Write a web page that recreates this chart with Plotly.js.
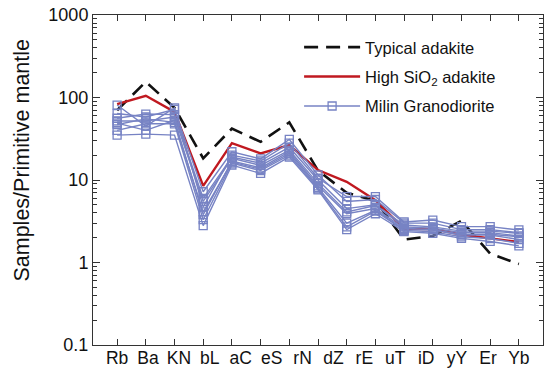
<!DOCTYPE html>
<html>
<head>
<meta charset="utf-8">
<script src="https://cdn.plot.ly/plotly-3.0.1.min.js"></script>
<style>html,body{margin:0;padding:0;background:#fff;}#chart{width:547px;height:374px;}</style>
</head>
<body>
<div id="chart"></div>
<script>
// Elements plotted (15 data positions)
const elements = ['Rb','Ba','K','Nb','La','Ce','Sr','Nd','Zr','Eu','Ti','Dy','Y','Er','Yb'];
// Axis labels as printed in the figure (14 labels)
const tickLabels = ['Rb','Ba','KN','bL','aC','eS','rN','dZ','rE','uT','iD','yY','Er','Yb'];

const typicalAdakite = [70, 155, 75, 18.3, 42, 29, 50, 13, 7, 5.6, 1.9, 2.1, 3.2, 1.28, 0.96];
const highSiO2Adakite = [83, 105, 67, 8.5, 28, 21, 26.5, 13.2, 9.5, 5.7, 2.56, 2.55, 2.18, 1.96, 1.77];

const milin1 = [81, 45, 75, 4.7, 20, 17, 28, 10.5, 6.3, 6.3, 3.1, 3.27, 2.72, 2.72, 2.48];
const milin2 = [64, 58, 72, 7.2, 22, 18, 31, 11.5, 5.5, 5.8, 3.0, 3.0, 2.5, 2.5, 2.3];
const milin3 = [56, 63, 62, 6.0, 19, 16, 25, 10, 4.5, 5.0, 2.85, 2.7, 2.4, 2.4, 2.26];
const milin4 = [52, 52, 58, 5.5, 18.3, 15, 23, 9.1, 4.1, 4.9, 2.7, 2.6, 2.3, 2.3, 2.1];
const milin5 = [49, 40, 53, 3.8, 17, 14, 22, 8.5, 3.9, 4.5, 2.6, 2.5, 2.2, 2.2, 2.05];
const milin6 = [47, 55, 50, 4.1, 16.5, 13.5, 21, 8.1, 3.0, 4.3, 2.5, 2.48, 2.15, 2.15, 1.9];
const milin7 = [40, 48, 48, 3.3, 16, 13, 20, 7.8, 2.7, 4.2, 2.45, 2.35, 2.05, 1.95, 1.71];
const milin8 = [35, 36, 35, 2.8, 15.2, 12, 19, 7.6, 2.5, 3.9, 2.37, 2.26, 1.96, 1.8, 1.59];
const milinSamples = [milin1, milin2, milin3, milin4, milin5, milin6, milin7, milin8];

const yTickVals = [0.1, 1, 10, 100, 1000];
const yTickText = ['0.1', '1', '10', '100', '1000'];

const blue = '#7783c4';
const red = '#c01920';
const FONT = 'Liberation Sans, Arial, Helvetica, sans-serif';

const traces = [];
traces.push({
  x: elements, y: typicalAdakite, type: 'scatter', mode: 'lines',
  name: 'Typical adakite', legendgroup: 'a',
  line: {color: '#111', width: 2.6, dash: '14px,8px'}
});
traces.push({
  x: elements, y: highSiO2Adakite, type: 'scatter', mode: 'lines',
  name: 'High SiO<sub>2</sub> adakite', legendgroup: 'b',
  line: {color: red, width: 2.4}
});
milinSamples.forEach((s, i) => {
  traces.push({
    x: elements, y: s, type: 'scatter', mode: 'lines+markers',
    name: 'Milin Granodiorite', legendgroup: 'c', showlegend: i === 0,
    line: {color: blue, width: 1.4},
    marker: {symbol: 'square-open', size: 8, color: blue, line: {width: 1.3, color: blue}}
  });
});
// empty trace so the label axis exists
traces.push({x: [], y: [], xaxis: 'x2', type: 'scatter', mode: 'markers', showlegend: false, hoverinfo: 'skip'});

const xr = [-0.84, elements.length - 1 + 0.84];
const labelPos = tickLabels.map((_, j) => j * (elements.length - 1) / (tickLabels.length - 1));

const layout = {
  width: 547, height: 374,
  margin: {l: 93, r: 4, t: 15, b: 29},
  paper_bgcolor: '#fff', plot_bgcolor: '#fff',
  font: {family: FONT, size: 17, color: '#111'},
  showlegend: true,
  legend: {
    x: 0.458, y: 0.955, xanchor: 'left', yanchor: 'top',
    bgcolor: 'rgba(0,0,0,0)', borderwidth: 0,
    font: {family: FONT, size: 16.5, color: '#111'},
    itemwidth: 56, traceorder: 'grouped', tracegroupgap: 5
  },
  xaxis: {
    type: 'category', categoryorder: 'array', categoryarray: elements,
    range: xr, showticklabels: false,
    ticks: 'inside', ticklen: 6, tickwidth: 1, tickcolor: '#333',
    showline: true, linecolor: '#333', linewidth: 1, mirror: 'ticks',
    showgrid: false, zeroline: false
  },
  xaxis2: {
    type: 'linear', overlaying: 'x', anchor: 'y', side: 'bottom',
    range: xr, tickmode: 'array', tickvals: labelPos, ticktext: tickLabels,
    ticks: '', showline: false, showgrid: false, zeroline: false,
    tickfont: {family: FONT, size: 17.5, color: '#111'}
  },
  yaxis: {
    type: 'log', range: [-1, 3],
    tickmode: 'array', tickvals: yTickVals, ticktext: yTickText,
    ticks: 'inside', ticklen: 7, tickwidth: 1, tickcolor: '#333',
    minor: {dtick: 'D1', ticks: 'inside', ticklen: 4, tickwidth: 1, tickcolor: '#333', showgrid: false},
    showline: true, linecolor: '#333', linewidth: 1, mirror: 'ticks',
    showgrid: false, zeroline: false,
    tickfont: {family: FONT, size: 18, color: '#111'}
  },
  annotations: [{
    text: 'Samples/Primitive mantle', textangle: -90,
    xref: 'paper', yref: 'paper', x: -0.157, y: 0.56,
    xanchor: 'center', yanchor: 'middle', showarrow: false,
    font: {family: FONT, size: 21.5, color: '#111'}
  }]
};

Plotly.newPlot('chart', traces, layout, {displayModeBar: false, staticPlot: true});
</script>
</body>
</html>
